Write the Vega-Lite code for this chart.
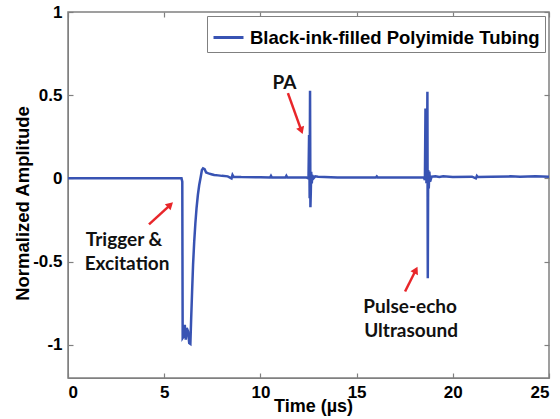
{
  "$schema": "https://vega.github.io/schema/vega-lite/v6.json",
  "width": 481,
  "height": 366,
  "autosize": {"type": "none"},
  "padding": {"left": 68, "top": 12, "right": 11, "bottom": 41},
  "background": "white",
  "config": {
    "view": {"stroke": "#808080", "strokeWidth": 1.5},
    "axis": {"grid": false, "domainColor": "#808080", "tickColor": "#808080", "tickWidth": 1.2, "labelColor": "black", "labelFont": "Liberation Sans", "labelFontWeight": "bold", "labelFontSize": 17, "titleFont": "Liberation Sans", "titleFontWeight": "bold", "titleFontSize": 18.5, "titleColor": "black"},
    "legend": {"labelFont": "Liberation Sans", "labelFontWeight": "bold", "labelFontSize": 18.5, "labelColor": "black"}
  },
  "datasets": {
    "signal": [
      {"t": 0, "a": 0}, {"t": 5.9, "a": 0}, {"t": 5.94, "a": -0.02}, {"t": 5.96, "a": -0.96}, {"t": 6.02, "a": -0.95}, {"t": 6.07, "a": -0.88}, {"t": 6.12, "a": -0.97}, {"t": 6.17, "a": -0.9}, {"t": 6.24, "a": -0.92}, {"t": 6.3, "a": -0.99}, {"t": 6.36, "a": -0.995}, {"t": 6.4, "a": -0.85}, {"t": 6.45, "a": -0.68}, {"t": 6.5, "a": -0.52}, {"t": 6.56, "a": -0.38}, {"t": 6.62, "a": -0.27}, {"t": 6.68, "a": -0.18}, {"t": 6.75, "a": -0.1}, {"t": 6.82, "a": -0.04}, {"t": 6.9, "a": 0.01}, {"t": 6.96, "a": 0.05}, {"t": 7.02, "a": 0.06}, {"t": 7.1, "a": 0.055}, {"t": 7.18, "a": 0.035}, {"t": 7.3, "a": 0.03}, {"t": 7.45, "a": 0.025}, {"t": 7.6, "a": 0.02}, {"t": 7.8, "a": 0.018}, {"t": 8.0, "a": 0.015}, {"t": 8.3, "a": 0.012}, {"t": 8.5, "a": 0.0}, {"t": 8.55, "a": 0.02}, {"t": 8.6, "a": 0.01}, {"t": 9.0, "a": 0.008}, {"t": 10.0, "a": 0.006}, {"t": 10.5, "a": 0.005}, {"t": 10.55, "a": 0.015}, {"t": 10.6, "a": 0.005}, {"t": 11.3, "a": 0.005}, {"t": 11.35, "a": 0.015}, {"t": 11.4, "a": 0.005}, {"t": 12.4, "a": 0.005}, {"t": 12.5, "a": 0.0}, {"t": 12.53, "a": 0.26}, {"t": 12.55, "a": 0.05}, {"t": 12.56, "a": -0.12}, {"t": 12.58, "a": 0.526}, {"t": 12.6, "a": -0.173}, {"t": 12.62, "a": -0.08}, {"t": 12.64, "a": 0.04}, {"t": 12.67, "a": -0.03}, {"t": 12.7, "a": 0.02}, {"t": 12.76, "a": 0.0}, {"t": 12.85, "a": 0.012}, {"t": 13.0, "a": 0.01}, {"t": 14.0, "a": 0.005}, {"t": 16.0, "a": 0.005}, {"t": 16.05, "a": 0.012}, {"t": 16.1, "a": 0.005}, {"t": 18.5, "a": 0.005}, {"t": 18.55, "a": -0.01}, {"t": 18.58, "a": 0.42}, {"t": 18.61, "a": 0.19}, {"t": 18.63, "a": -0.03}, {"t": 18.66, "a": 0.1}, {"t": 18.68, "a": 0.52}, {"t": 18.7, "a": -0.6}, {"t": 18.72, "a": 0.05}, {"t": 18.75, "a": -0.06}, {"t": 18.78, "a": 0.04}, {"t": 18.82, "a": -0.02}, {"t": 18.9, "a": 0.01}, {"t": 19.1, "a": 0.012}, {"t": 19.3, "a": 0.008}, {"t": 19.5, "a": 0.012}, {"t": 20, "a": 0.008}, {"t": 21.0, "a": 0.01}, {"t": 21.2, "a": 0.0}, {"t": 21.25, "a": 0.015}, {"t": 21.3, "a": 0.008}, {"t": 22, "a": 0.01}, {"t": 23, "a": 0.012}, {"t": 23.5, "a": 0.01}, {"t": 24.3, "a": 0.012}, {"t": 25, "a": 0.01}
    ],
    "arrows": [
      {"t1": 11.43, "a1": 0.512, "t2": 12.13, "a2": 0.287, "ang": 160},
      {"t1": 4.21, "a1": -0.277, "t2": 5.32, "a2": -0.159, "ang": 47},
      {"t1": 17.52, "a1": -0.68, "t2": 18.08, "a2": -0.551, "ang": 27}
    ],
    "labels": [
      {"t": 11.25, "a": 0.572, "txt": "PA"},
      {"t": 2.91, "a": -0.373, "txt": "Trigger &"},
      {"t": 3.07, "a": -0.512, "txt": "Excitation"},
      {"t": 17.78, "a": -0.771, "txt": "Pulse-echo"},
      {"t": 17.83, "a": -0.916, "txt": "Ultrasound"}
    ]
  },
  "resolve": {"axis": {"x": "independent", "y": "independent"}},
  "layer": [
    {
      "data": {"name": "signal"},
      "mark": {"type": "line", "strokeWidth": 2.5, "clip": true},
      "encoding": {
        "x": {"field": "t", "type": "quantitative", "scale": {"domain": [0, 25], "nice": false}, "axis": {"orient": "bottom", "values": [0, 5, 10, 15, 20, 25], "ticks": false, "tickSize": 0, "labelPadding": 6, "labelExpr": "'' + datum.value", "title": "Time (µs)", "titleX": 245, "titleY": 28, "titleBaseline": "middle", "titleAlign": "center", "titleFontSize": 18}},
        "y": {"field": "a", "type": "quantitative", "scale": {"domain": [-1.2, 1], "nice": false, "zero": false}, "axis": {"orient": "left", "values": [-1, -0.5, 0, 0.5, 1], "ticks": false, "tickSize": 0, "labelPadding": 6, "labelExpr": "'' + datum.value", "title": "Normalized Amplitude", "titleX": -46, "titleY": 191, "titleAngle": -90, "titleBaseline": "middle", "titleAlign": "center"}},
        "color": {"datum": "Black-ink-filled Polyimide Tubing", "type": "nominal", "scale": {"range": ["#3853b3"]}, "legend": {"title": null, "orient": "top-right", "offset": 4, "strokeColor": "#808080", "fillColor": "white", "padding": 5, "symbolType": "stroke", "symbolSize": 900, "symbolStrokeWidth": 3, "labelOffset": 5, "labelLimit": 0}}
      }
    },
    {
      "data": {"name": "arrows"},
      "mark": {"type": "rule", "color": "#e8262a", "strokeWidth": 2.5},
      "encoding": {
        "x": {"field": "t1", "type": "quantitative", "axis": {"orient": "bottom", "values": [0, 5, 10, 15, 20, 25], "tickSize": -5, "labels": false, "title": null, "domain": false}},
        "y": {"field": "a1", "type": "quantitative", "axis": {"orient": "left", "values": [-1, -0.5, 0, 0.5, 1], "tickSize": -5, "labels": false, "title": null, "domain": false}},
        "x2": {"field": "t2"},
        "y2": {"field": "a2"}
      }
    },
    {
      "data": {"name": "arrows"},
      "mark": {"type": "point", "shape": "triangle-up", "filled": true, "color": "#e8262a", "size": 70, "opacity": 1},
      "encoding": {
        "x": {"field": "t2", "type": "quantitative", "axis": null},
        "y": {"field": "a2", "type": "quantitative", "axis": null},
        "angle": {"field": "ang", "type": "quantitative", "scale": null}
      }
    },
    {
      "data": {"name": "labels"},
      "mark": {"type": "text", "font": "Lato", "fontWeight": "bold", "fontSize": 19, "color": "#111111", "baseline": "middle", "align": "center"},
      "encoding": {
        "x": {"field": "t", "type": "quantitative", "axis": {"orient": "top", "values": [0, 5, 10, 15, 20, 25], "tickSize": -5, "labels": false, "title": null, "domain": false}},
        "y": {"field": "a", "type": "quantitative", "axis": {"orient": "right", "values": [-1, -0.5, 0, 0.5, 1], "tickSize": -5, "labels": false, "title": null, "domain": false}},
        "text": {"field": "txt"}
      }
    }
  ]
}
